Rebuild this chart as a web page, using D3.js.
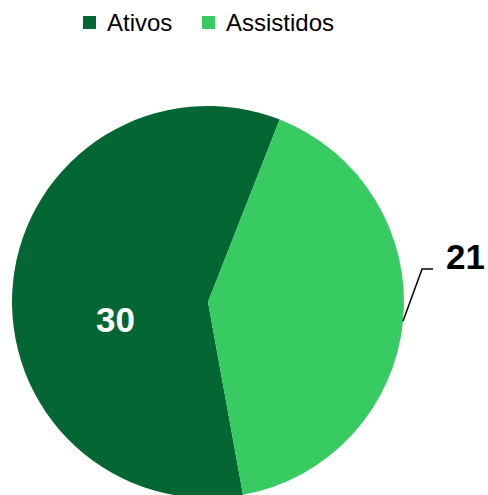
<!DOCTYPE html>
<html><head><meta charset="utf-8">
<script src="https://cdn.jsdelivr.net/npm/d3@7"></script>
<style>html,body{margin:0;padding:0;background:#fff;}svg{display:block;}</style>
</head><body>
<svg id="c" width="488" height="495"></svg>
<script>
const categories = ["Ativos", "Assistidos"];
const values = [30, 21];
const colors = ["#046633", "#37CB62"];

const svg = d3.select("#c");
const cx = 208, cy = 302, R = 196;
const deg = Math.PI / 180;

const pie = d3.pie().sort(null).value(d => d.v)
  .startAngle(169.7 * deg).endAngle(169.7 * deg + 2 * Math.PI);
const data = categories.map((c, i) => ({ c, v: values[i], col: colors[i] }));
const arcs = pie(data);
const arc = d3.arc().innerRadius(0).outerRadius(R);

const g = svg.append("g").attr("transform", `translate(${cx},${cy})`);
g.selectAll("path").data(arcs).enter().append("path")
  .attr("d", arc).attr("fill", d => d.data.col);

// inside label (Ativos)
const a0 = arcs[0];
const ang0 = (a0.startAngle + a0.endAngle) / 2 - 15.5 * deg;
const r0 = 93;
g.append("text")
  .attr("x", r0 * Math.sin(ang0) - 1).attr("y", -r0 * Math.cos(ang0) + 1)
  .attr("text-anchor", "middle").attr("dominant-baseline", "central")
  .attr("font-family", "Liberation Sans, Arial, sans-serif")
  .attr("font-weight", "bold").attr("font-size", 35).attr("fill", "#fff")
  .text(a0.data.v);

// outside label (Assistidos)
const a1 = arcs[1];
const ang1 = (a1.startAngle + a1.endAngle) / 2;
const p0 = [R * Math.sin(ang1), -R * Math.cos(ang1)];
const p1 = [p0[0] + 19, p0[1] - 52];
const p2 = [p1[0] + 11, p1[1]];
g.append("polyline")
  .attr("points", [p0, p1, p2].map(p => p.join(",")).join(" "))
  .attr("fill", "none").attr("stroke", "#000").attr("stroke-width", 1.5);
g.append("text")
  .attr("x", p2[0] + 13).attr("y", p2[1] - 13)
  .attr("dominant-baseline", "central")
  .attr("font-family", "Liberation Sans, Arial, sans-serif")
  .attr("font-weight", "bold").attr("font-size", 35).attr("fill", "#000")
  .text(a1.data.v);

// legend
const legX = [83, 202];
const lg = svg.append("g");
data.forEach((d, i) => {
  lg.append("rect").attr("x", legX[i]).attr("y", 16).attr("width", 13).attr("height", 13).attr("fill", d.col);
  lg.append("text").attr("x", legX[i] + 24).attr("y", 22.5)
    .attr("dominant-baseline", "central")
    .attr("font-family", "Liberation Sans, Arial, sans-serif")
    .attr("font-size", 24).attr("fill", "#000").text(d.c);
});
</script>
</body></html>
